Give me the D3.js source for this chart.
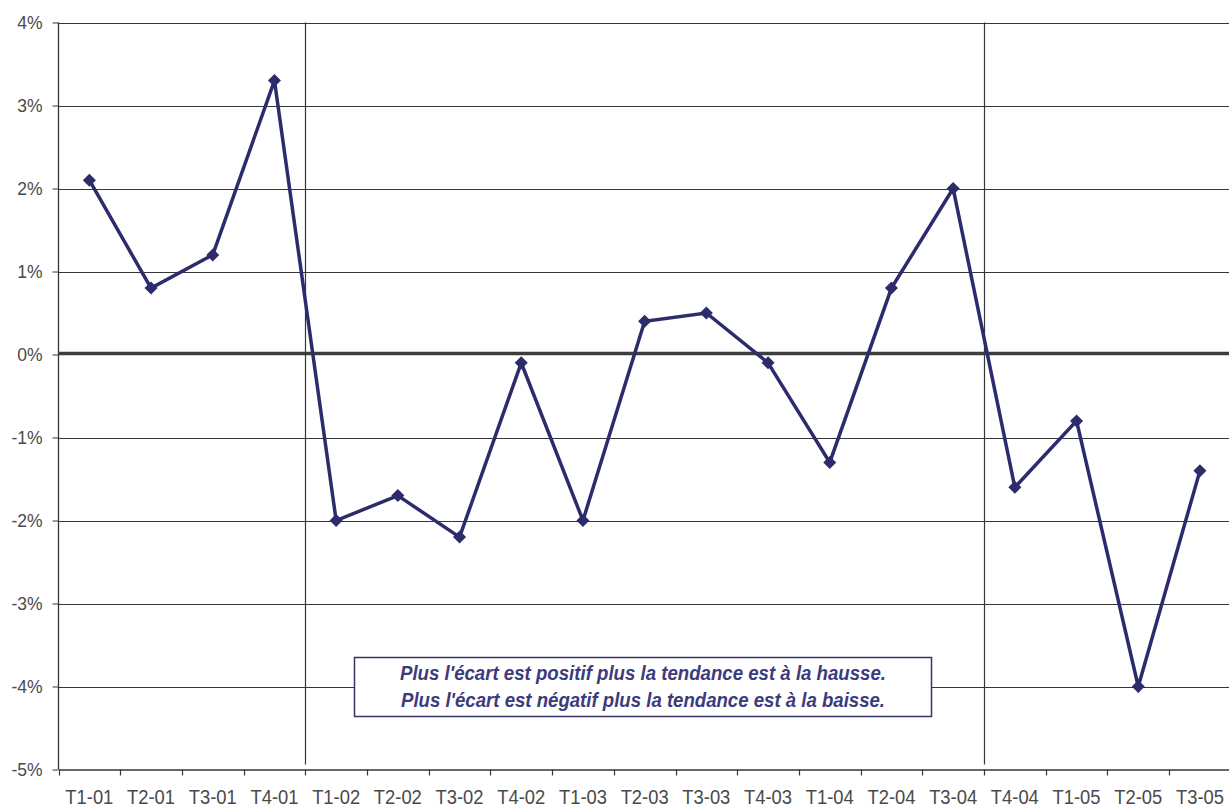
<!DOCTYPE html>
<html>
<head>
<meta charset="utf-8">
<script src="https://cdn.jsdelivr.net/npm/d3@7"></script>
<style>
  html, body { margin: 0; padding: 0; background: #fff; }
  svg { display: block; }
</style>
</head>
<body>
<svg id="chart" width="1229" height="809"></svg>
<script>
const categories = ["T1-01","T2-01","T3-01","T4-01","T1-02","T2-02","T3-02","T4-02","T1-03","T2-03","T3-03","T4-03","T1-04","T2-04","T3-04","T4-04","T1-05","T2-05","T3-05"];
const ecart = [2.1, 0.8, 1.2, 3.3, -2.0, -1.7, -2.2, -0.1, -2.0, 0.4, 0.5, -0.1, -1.3, 0.8, 2.0, -1.6, -0.8, -4.0, -1.4];
const yTicks = [4, 3, 2, 1, 0, -1, -2, -3, -4, -5];
const separators = ["T1-02", "T4-04"];
const noteLines = ["Plus l'écart est positif plus la tendance est à la hausse.",
                   "Plus l'écart est négatif plus la tendance est à la baisse."];

(function () {
const W = 1229, H = 809;
const mLeft = 58.5, mTop = 22.5, mBottom = 769.5;
const band = 61.7;
const svg = d3.select("#chart");

const x = d3.scaleBand().domain(categories).range([mLeft, mLeft + band * categories.length]).padding(0);
const y = d3.scaleLinear().domain([-5, 4]).range([mBottom, mTop]);

const gridColor = "#363636";
const lineColor = "#2c2c6c";

// y axis with ticks
const yAxis = svg.append("g")
  .attr("transform", `translate(${mLeft},0)`)
  .call(d3.axisLeft(y).tickValues(yTicks).tickFormat(d => d + "%").tickSize(6).tickPadding(10));
yAxis.select(".domain").remove();
yAxis.selectAll(".tick line").attr("stroke", gridColor);
yAxis.selectAll(".tick text")
  .attr("fill", "#4a4a4a")
  .style("font-family", "'Liberation Sans', Arial, sans-serif")
  .style("font-size", "17.5px");

// horizontal gridlines
svg.append("g").selectAll("line")
  .data(yTicks.filter(d => d !== 0 && d !== -5))
  .join("line")
  .attr("x1", mLeft).attr("x2", W)
  .attr("y1", d => Math.round(y(d)) + 0.5).attr("y2", d => Math.round(y(d)) + 0.5)
  .attr("stroke", gridColor).attr("stroke-width", 1.2);

// vertical separators
svg.append("g").selectAll("line")
  .data(separators)
  .join("line")
  .attr("x1", d => Math.round(x(d)) + 0.5).attr("x2", d => Math.round(x(d)) + 0.5)
  .attr("y1", y(4)).attr("y2", mBottom - 5)
  .attr("stroke", gridColor).attr("stroke-width", 1.2);

// left axis line
svg.append("line")
  .attr("x1", mLeft).attr("x2", mLeft).attr("y1", mTop).attr("y2", mBottom)
  .attr("stroke", gridColor).attr("stroke-width", 1.3);

// x axis: boundary ticks + labels
const boundaries = categories.map(c => x(c)).concat([x(categories[categories.length - 1]) + x.bandwidth()]);
svg.append("g").selectAll("line")
  .data(boundaries)
  .join("line")
  .attr("x1", d => Math.round(d) + 0.5).attr("x2", d => Math.round(d) + 0.5)
  .attr("y1", mBottom).attr("y2", mBottom + 6)
  .attr("stroke", gridColor).attr("stroke-width", 1.2);

const xAxis = svg.append("g")
  .attr("transform", `translate(0,${mBottom})`)
  .call(d3.axisBottom(x).tickSize(0));
xAxis.select(".domain").attr("stroke", gridColor).attr("stroke-width", 1.3);
xAxis.selectAll(".tick text")
  .attr("y", 34.5)
  .attr("dy", 0)
  .attr("fill", "#4a4a4a")
  .attr("textLength", 48)
  .attr("lengthAdjust", "spacingAndGlyphs")
  .style("font-family", "'Liberation Sans', Arial, sans-serif")
  .style("font-size", "20.5px");

// zero line (thick)
svg.append("line")
  .attr("x1", mLeft).attr("x2", W)
  .attr("y1", y(0) - 1).attr("y2", y(0) - 1)
  .attr("stroke", "#3d3d3d").attr("stroke-width", 3.5);

// series line
const line = d3.line()
  .x((d, i) => x(categories[i]) + x.bandwidth() / 2)
  .y(d => y(d));
svg.append("path")
  .datum(ecart)
  .attr("d", line)
  .attr("fill", "none")
  .attr("stroke", lineColor)
  .attr("stroke-width", 3.5)
  .attr("stroke-linejoin", "miter");

// diamond markers
const diamond = d3.symbol().type(d3.symbolSquare).size(85);
svg.append("g").selectAll("path")
  .data(ecart)
  .join("path")
  .attr("d", diamond)
  .attr("transform", (d, i) => `translate(${x(categories[i]) + x.bandwidth() / 2},${y(d)}) rotate(45)`)
  .attr("fill", lineColor);

// annotation box
const bx = 354.5, by = 657.5, bw = 577, bh = 59;
svg.append("rect")
  .attr("x", bx).attr("y", by).attr("width", bw).attr("height", bh)
  .attr("fill", "#fff").attr("stroke", "#34346a").attr("stroke-width", 1.5);
svg.append("g").selectAll("text")
  .data(noteLines)
  .join("text")
  .attr("x", bx + bw / 2)
  .attr("y", (d, i) => by + 22 + i * 27)
  .attr("text-anchor", "middle")
  .attr("fill", "#3b3b7e")
  .attr("textLength", (d, i) => i === 0 ? 486 : 484)
  .attr("lengthAdjust", "spacingAndGlyphs")
  .style("font-family", "'Liberation Sans', Arial, sans-serif")
  .style("font-style", "italic")
  .style("font-weight", "bold")
  .style("font-size", "19.5px")
  .text(d => d);
})();
</script>
</body>
</html>
